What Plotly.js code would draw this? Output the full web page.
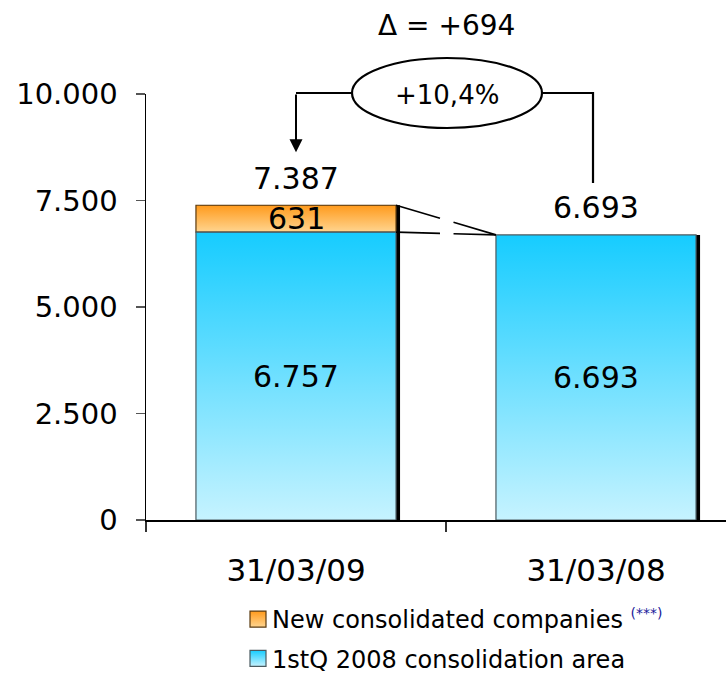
<!DOCTYPE html>
<html>
<head>
<meta charset="utf-8">
<script src="https://cdn.plot.ly/plotly-3.0.1.min.js"></script>
<style>html,body{margin:0;padding:0;background:#fff;}#chart{width:726px;height:674px;}</style>
</head>
<body>
<div id="chart"></div>
<script>
// ---- data ----
const categories = ['31/03/09', '31/03/08'];
const baseArea = [6757, 6693];          // 1stQ 2008 consolidation area
const newCompanies = [631, 0];          // New consolidated companies
const totals = [7387, 6693];            // totals as printed
const seriesNames = ['New consolidated companies', '1stQ 2008 consolidation area'];
const yTicks = [0, 2500, 5000, 7500, 10000];

const delta = totals[0] - totals[1];
const pct = delta / totals[1] * 100;

function fmt(n) { return String(Math.round(n)).replace(/\B(?=(\d{3})+(?!\d))/g, '.'); }

const FONT = 'DejaVu Sans, Verdana, sans-serif';
const YMAX = 10000;
const BW = 0.667;            // bar width (category units)
const PX = YMAX / 426;       // y units per pixel
const XPX = 1 / 300;         // x units per pixel
const P = v => v / YMAX;     // data y -> paper y

const traces = [
  { // shadow
    type: 'bar', x: categories, y: totals, base: [0, 0], width: BW, offset: -BW / 2 + 4 * XPX,
    marker: { color: '#000', line: { width: 0 } }, showlegend: false, hoverinfo: 'skip'
  },
  {
    type: 'bar', name: seriesNames[0] + ' <sup><span style="color:#1a1a9a;font-size:14px">(***)</span></sup>',
    x: categories.filter((c, i) => newCompanies[i] > 0),
    y: newCompanies.filter(v => v > 0),
    base: baseArea.filter((v, i) => newCompanies[i] > 0),
    width: BW, offset: -BW / 2, legendgroup: 'a',
    marker: { color: '#FFB050', line: { color: '#5a3a10', width: 1.2 } }, hoverinfo: 'skip'
  },
  {
    type: 'bar', name: seriesNames[1], x: categories, y: baseArea, base: [0, 0],
    width: BW, offset: -BW / 2, legendgroup: 'b',
    marker: { color: '#5FD8FF', line: { color: '#4a5a60', width: 1.2 } }, hoverinfo: 'skip'
  }
];

const annotations = [];
const shapes = [];
const lblFont = { size: 30, color: '#000', family: FONT };
// inside labels
baseArea.forEach((v, i) => annotations.push({ x: i, y: v / 2, text: fmt(v), showarrow: false, font: lblFont }));
newCompanies.forEach((v, i) => { if (v > 0) annotations.push({ x: i, y: baseArea[i] + v / 2, text: fmt(v), showarrow: false, font: lblFont }); });
// total labels
totals.forEach((v, i) => annotations.push({ x: i, y: v, yshift: 27, text: fmt(v), showarrow: false, font: lblFont }));
// delta title
annotations.push({ x: 0.5, xref: 'x', yref: 'paper', y: P(YMAX + 69 * PX), yanchor: 'middle', xanchor: 'center', text: '\u0394 = +' + fmt(delta), showarrow: false, font: { size: 28, color: '#000', family: FONT } });
// ellipse label
const eY = YMAX + 1 * PX, eX = 0.5 + 1 * XPX;
annotations.push({ x: eX, xref: 'x', yref: 'paper', y: P(eY) - 0.004, yanchor: 'middle', xanchor: 'center', text: '+' + pct.toFixed(1).replace('.', ',') + '%', showarrow: false, font: { size: 26, color: '#000', family: FONT } });
const eHW = 95 * XPX, eHH = 35 * PX;
shapes.push({ type: 'circle', xref: 'x', yref: 'paper', x0: eX - eHW, x1: eX + eHW, y0: P(eY - eHH), y1: P(eY + eHH), line: { color: '#000', width: 2.2 }, fillcolor: 'rgba(0,0,0,0)' });
// left bracket + arrow
shapes.push({ type: 'line', xref: 'x', yref: 'paper', x0: 0, x1: eX - eHW, y0: P(eY), y1: P(eY), line: { color: '#000', width: 2.2 } });
annotations.push({ x: 0, xref: 'x', yref: 'paper', y: P(totals[0] + 53 * PX), ax: 0, ay: P(eY), axref: 'x', ayref: 'paper', text: '', showarrow: true, arrowhead: 2, arrowsize: 1.3, arrowwidth: 2, arrowcolor: '#000', standoff: 0, startstandoff: 0 });
// right bracket
const rX = 1 - 3 * XPX;
shapes.push({ type: 'path', xref: 'x', yref: 'paper', path: `M${eX + eHW},${P(eY)} L${rX},${P(eY)} L${rX},${P(totals[1] + 52 * PX)}`, line: { color: '#000', width: 2.2 } });
// broken connector lines between bars
function connector(yA, yB) {
  const xa = BW / 2, xb = 1 - BW / 2, g1 = 0.5 - 0.02, g2 = 0.5 + 0.025;
  const yAt = x => yA + (yB - yA) * (x - xa) / (xb - xa);
  shapes.push({ type: 'line', xref: 'x', yref: 'y', x0: xa, y0: yA, x1: g1, y1: yAt(g1), line: { color: '#000', width: 1.6 } });
  shapes.push({ type: 'line', xref: 'x', yref: 'y', x0: g2, y0: yAt(g2), x1: xb, y1: yB, line: { color: '#000', width: 1.6 } });
}
connector(totals[0], totals[1]);
connector(baseArea[0], baseArea[1]);

const LEG_SHIFT = 15;
const layout = {
  width: 726, height: 674,
  margin: { l: 146, r: 0, t: 94, b: 154, pad: 0 },
  paper_bgcolor: '#fff', plot_bgcolor: '#fff',
  separators: ',.',
  barmode: 'overlay',
  font: { family: FONT, color: '#000' },
  xaxis: {
    type: 'category', categoryorder: 'array', categoryarray: categories,
    range: [-0.5, 1.4333], showgrid: false, zeroline: false,
    showline: true, linecolor: '#000', linewidth: 1.5,
    ticks: 'outside', tickson: 'boundaries', ticklen: 10, tickcolor: '#333', tickwidth: 1.2,
    tickfont: { size: 31, family: FONT, color: '#000' }, ticklabelstandoff: 22, tickangle: 0
  },
  yaxis: {
    range: [0, YMAX], tickvals: yTicks, tickformat: ',d',
    showgrid: false, zeroline: false, showline: true, linecolor: '#000', linewidth: 1.5,
    ticks: 'outside', ticklen: 9, tickcolor: '#555', tickwidth: 1.5,
    tickfont: { size: 29, family: FONT, color: '#000' }, ticklabelstandoff: 12
  },
  showlegend: true,
  legend: {
    xref: 'paper', yref: 'paper', x: 86 / 580, y: -62 / 426, xanchor: 'left', yanchor: 'top',
    traceorder: 'grouped', tracegroupgap: 5, font: { size: 24, family: FONT, color: '#000' },
    bgcolor: 'rgba(0,0,0,0)', borderwidth: 0, itemclick: false
  },
  annotations: annotations, shapes: shapes
};

Plotly.newPlot('chart', traces, layout, { displayModeBar: false, staticPlot: true }).then(gd => {
  const NS = 'http://www.w3.org/2000/svg';
  const svg = gd.querySelector('svg.main-svg');
  let defs = svg.querySelector('defs');
  if (!defs) { defs = document.createElementNS(NS, 'defs'); svg.insertBefore(defs, svg.firstChild); }
  function grad(id, top, bottom) {
    const lg = document.createElementNS(NS, 'linearGradient');
    lg.setAttribute('id', id); lg.setAttribute('x1', '0'); lg.setAttribute('y1', '0'); lg.setAttribute('x2', '0'); lg.setAttribute('y2', '1');
    [[0, top], [1, bottom]].forEach(([o, c]) => {
      const s = document.createElementNS(NS, 'stop'); s.setAttribute('offset', o); s.setAttribute('stop-color', c); lg.appendChild(s);
    });
    defs.appendChild(lg);
  }
  grad('gBlue', '#16CCFF', '#C6F3FF');
  grad('gOrange', '#FF9A1C', '#FFD590');
  const barTraces = gd.querySelectorAll('.barlayer .trace');
  const fills = [null, 'url(#gOrange)', 'url(#gBlue)'];
  barTraces.forEach((t, i) => { if (fills[i]) t.querySelectorAll('path').forEach(p => { p.style.fill = fills[i]; }); });
  gd.querySelectorAll('.legend .traces').forEach(t => {
    const txt = (t.querySelector('.legendtext') || {}).textContent || '';
    const f = txt.indexOf('New') === 0 ? 'url(#gOrange)' : 'url(#gBlue)';
    t.querySelectorAll('.legendpoints path').forEach(p => { p.setAttribute('d', 'M14,8H-2V-8H14Z'); p.style.fill = f; });
  });
  const leg = gd.querySelector('g.legend');
  if (leg) {
    const m = /translate\(\s*([-\d.]+)[ ,]+([-\d.]+)\s*\)/.exec(leg.getAttribute('transform') || '');
    if (m) leg.setAttribute('transform', `translate(${+m[1]},${+m[2] + LEG_SHIFT})`);
  }
});
</script>
</body>
</html>
